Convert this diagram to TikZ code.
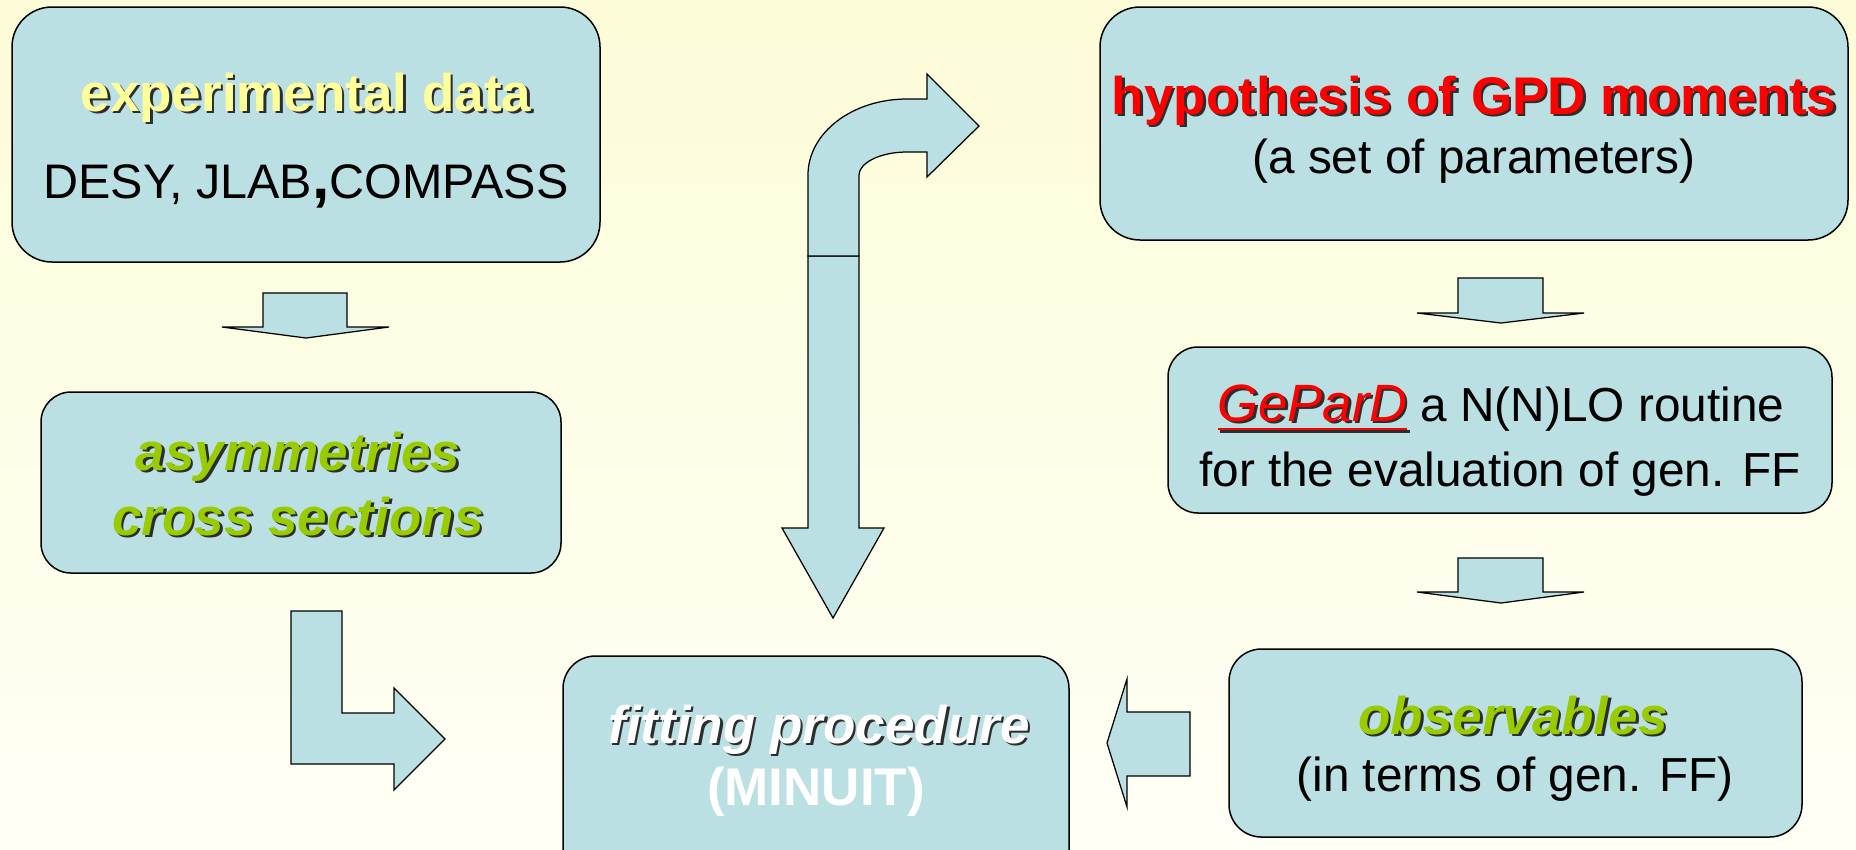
\documentclass[tikz,border=0pt]{standalone}
\usepackage{fontspec}
\setmainfont{Liberation Sans}
\definecolor{boxfill}{RGB}{186,224,228}
\definecolor{paleyellow}{RGB}{255,255,153}
\definecolor{titlegreen}{RGB}{153,204,0}
\definecolor{shadowc}{RGB}{45,45,45}
\definecolor{bgtop}{RGB}{252,252,216}
\definecolor{bgbot}{RGB}{255,255,246}
\newcommand\shtext[2]{\makebox[0pt][l]{\kern1pt\raisebox{-1pt}{\color{shadowc}#2}}{\color{#1}#2}}
\newcommand\ulsh[1]{\setbox0\hbox{#1}\rlap{\kern1pt\raisebox{-4.6pt}{\color{shadowc}\rule{\wd0}{0.9pt}}}\rlap{\raisebox{-3.7pt}{\color{red}\rule{\wd0}{0.9pt}}}\box0}
\tikzset{
  box/.style={draw=black, line width=0.6pt, fill=boxfill, rounded corners=#1, inner sep=0pt},
  box/.default=13pt,
  blockarrow/.style={draw=black, line width=0.5pt, fill=boxfill, line join=miter},
  bigtitle/.style={anchor=base, inner sep=0pt, font=\fontsize{21.2}{24}\selectfont\bfseries},
  bigtitleit/.style={anchor=base, inner sep=0pt, font=\fontsize{21.2}{24}\selectfont\bfseries\itshape},
  plaintext/.style={anchor=base, inner sep=0pt, font=\fontsize{19.1}{22}\selectfont},
}
\begin{document}
\begin{tikzpicture}[x=0.4pt, y=-0.4pt]
\useasboundingbox (0,0) rectangle (1856,849);
\clip (0,0) rectangle (1856,849);
\fill[top color=bgtop, bottom color=bgbot] (0,0) rectangle (1856,849);

% boxes
\node[box=16pt, minimum width={588*0.4pt}, minimum height={255*0.4pt}] (exp) at (306,134.5) {};
\node[box=12pt, minimum width={520*0.4pt}, minimum height={181*0.4pt}] (asym) at (301,482.5) {};
\node[box=13pt, minimum width={506*0.4pt}, minimum height={244*0.4pt}] (fit) at (816,778) {};
\node[box=16pt, minimum width={748*0.4pt}, minimum height={233*0.4pt}] (hyp) at (1474,123.5) {};
\node[box=12pt, minimum width={664*0.4pt}, minimum height={166*0.4pt}] (gep) at (1500,430) {};
\node[box=13pt, minimum width={573*0.4pt}, minimum height={188*0.4pt}] (obs) at (1515.5,743) {};

% texts
\node[bigtitle] (t1) at (306,111) {\shtext{paleyellow}{experimental data}};
\node[plaintext, font=\fontsize{19.4}{22}\selectfont] (t1b) at (306,198) {DESY, JLAB{\fontsize{25}{25}\selectfont\bfseries,}COMPASS};
\node[bigtitleit] (t2) at (298,470) {\shtext{titlegreen}{asymmetries}};
\node[bigtitleit] (t2b) at (298,535) {\shtext{titlegreen}{cross sections}};
\node[bigtitleit] (t3) at (819,743) {\shtext{white}{fitting procedure}};
\node[bigtitle] (t3b) at (816,805) {\color{white}(MINUIT)};
\node[bigtitle] (t4) at (1474,114) {\shtext{red}{hypothesis of GPD moments}};
\node[plaintext] (t4b) at (1474,173) {(a set of parameters)};
\node[plaintext] (t5) at (1501,421) {{\fontsize{21}{24}\selectfont\itshape\ulsh{\shtext{red}{GeParD}}} a N(N)LO routine};
\node[plaintext] (t5b) at (1500,486) {for the evaluation of gen. FF};
\node[bigtitleit] (t6) at (1513,734) {\shtext{titlegreen}{observables}};
\node[plaintext] (t6b) at (1515,791) {(in terms of gen. FF)};

% block arrows
\draw[blockarrow] (263,293) -- (347,293) -- (347,327) -- (389,327) -- (306,338) -- (222,327) -- (263,327) -- cycle;
\draw[blockarrow] (1458,278) -- (1543,278) -- (1543,313) -- (1584,313) -- (1501,323) -- (1417,313) -- (1458,313) -- cycle;
\draw[blockarrow] (1458,558) -- (1543,558) -- (1543,592) -- (1584,592) -- (1501,603) -- (1417,592) -- (1458,592) -- cycle;
\draw[blockarrow] (1190,712) -- (1190,776) -- (1127,776) -- (1127,807) -- (1107,743) -- (1127,679) -- (1127,712) -- cycle;
\draw[blockarrow] (291,611) -- (342,611) -- (342,713) -- (394,713) -- (394,688) -- (445,739) -- (394,790) -- (394,764) -- (291,764) -- cycle;
\draw[blockarrow] (808,256) -- (859,256) -- (859,528) -- (884,528) -- (833,618) -- (782,528) -- (808,528) -- cycle;
\draw[blockarrow] (808,256) -- (808,175) .. controls (808,133) and (852,99) .. (907,99) -- (927,99) -- (927,74) -- (979,126) -- (927,177) -- (927,152) -- (907,152) .. controls (880,152) and (859,163) .. (859,175) -- (859,256) -- cycle;
\end{tikzpicture}
\end{document}
